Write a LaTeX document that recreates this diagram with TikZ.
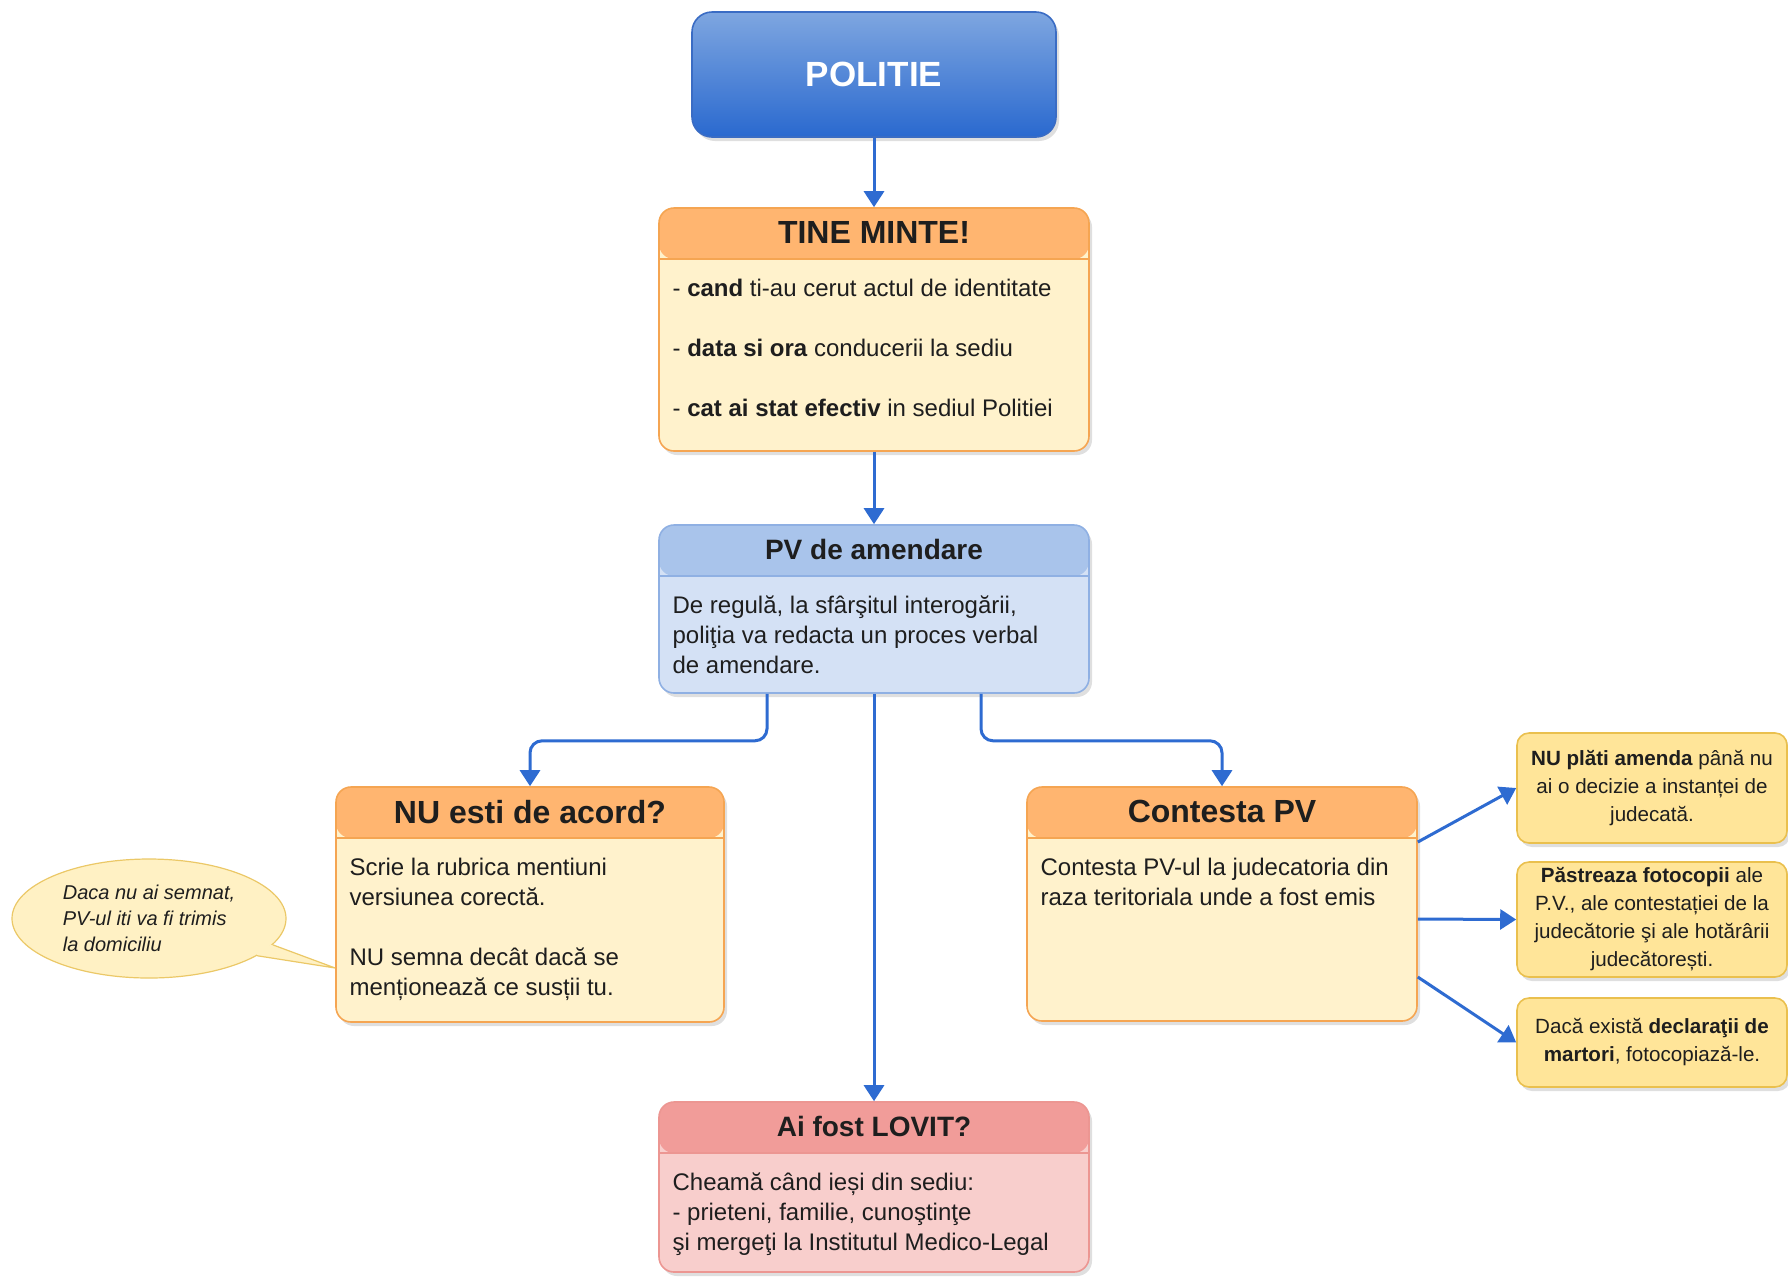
\documentclass[tikz,border=0pt]{standalone}
\usepackage{fontspec}
\setmainfont{Liberation Sans}
\usetikzlibrary{arrows.meta,shadows,shapes.geometric,calc}

\definecolor{linkblue}{HTML}{2E6BD1}
\definecolor{policetop}{HTML}{7EA6E0}
\definecolor{policebot}{HTML}{2A69CF}
\definecolor{policeline}{HTML}{3A6CC4}
\definecolor{orangehead}{HTML}{FFB570}
\definecolor{orangebody}{HTML}{FFF2CC}
\definecolor{orangeline}{HTML}{F5A552}
\definecolor{bluehead}{HTML}{A9C4EB}
\definecolor{bluebody}{HTML}{D4E1F5}
\definecolor{blueline}{HTML}{8FB0E3}
\definecolor{redhead}{HTML}{F19C99}
\definecolor{redbody}{HTML}{F8CECC}
\definecolor{redline}{HTML}{EC9692}
\definecolor{notefill}{HTML}{FFE599}
\definecolor{noteline}{HTML}{EAC04E}
\definecolor{bubblefill}{HTML}{FFF1C4}
\definecolor{bubbleline}{HTML}{EBC867}
\definecolor{inkgrey}{HTML}{1E1E1E}

\tikzset{
  link/.style={-{Triangle[length=8pt,width=10pt]}, draw=linkblue, line width=1.5pt},
  boxshadow/.style={drop shadow={opacity=0.25, shadow xshift=1.5pt, shadow yshift=-2pt}},
  lane/.style n args={3}{rectangle, rounded corners=7.5pt, draw=#1, line width=0.8pt, fill=#3, boxshadow,
    path picture={
      \fill[#2] (path picture bounding box.north west) rectangle ([yshift=-25.5pt]path picture bounding box.north east);
      \draw[#1, line width=0.8pt] ([yshift=-25.5pt]path picture bounding box.north west) -- ([yshift=-25.5pt]path picture bounding box.north east);
    }},
  policebox/.style={rectangle, rounded corners=10pt, draw=policeline, line width=0.8pt,
    top color=policetop, bottom color=policebot, boxshadow, text=white,
    font=\fontsize{17.5}{20}\selectfont\bfseries},
  titlebig/.style={inner sep=0pt, text=inkgrey, font=\fontsize{16}{19}\selectfont\bfseries},
  titlesmall/.style={inner sep=0pt, text=inkgrey, font=\fontsize{14}{17}\selectfont\bfseries},
  bodytext/.style={anchor=north west, inner sep=0pt, align=left, text=inkgrey, font=\fontsize{12}{15}\selectfont},
  notebox/.style={rectangle, rounded corners=6pt, draw=noteline, line width=0.8pt, fill=notefill, boxshadow,
    minimum width=135pt, inner sep=2pt, align=center, text=inkgrey, font=\fontsize{10.3}{14}\selectfont},
  bubble/.style={ellipse, draw=bubbleline, line width=0.6pt, fill=bubblefill, inner sep=0pt,
    minimum width=137pt, minimum height=59.5pt, align=left, text=inkgrey, font=\fontsize{10}{13}\selectfont\itshape},
}

\begin{document}
\begin{tikzpicture}[x=0.5pt, y=-0.5pt]
\useasboundingbox (0,0) rectangle (1788,1276);

\node[policebox, minimum width=182pt, minimum height=62.5pt] (politie) at (874,74.5) {POLITIE};

% boxes with a coloured title band
\node[lane={orangeline}{orangehead}{orangebody}, minimum width=215pt, minimum height=121.5pt] (tine)     at (874,329.5) {};
\node[lane={blueline}{bluehead}{bluebody},       minimum width=215pt, minimum height=84pt]    (pv)       at (874,609)   {};
\node[lane={orangeline}{orangehead}{orangebody}, minimum width=194pt, minimum height=117.5pt] (nuacord)  at (530,904.5) {};
\node[lane={orangeline}{orangehead}{orangebody}, minimum width=195pt, minimum height=117pt]   (contesta) at (1222,904)  {};
\node[lane={redline}{redhead}{redbody},          minimum width=215pt, minimum height=85pt]    (lovit)    at (874,1187)  {};

\node[titlebig]   (tinetitle)     at ([yshift=-12.75pt]tine.north)     {TINE MINTE!};
\node[titlesmall] (pvtitle)       at ([yshift=-12.75pt]pv.north)       {PV de amendare};
\node[titlebig]   (nuacordtitle)  at ([yshift=-12.75pt]nuacord.north)  {NU esti de acord?};
\node[titlebig]   (contestatitle) at ([yshift=-12.75pt]contesta.north) {Contesta PV};
\node[titlesmall] (lovittitle)    at ([yshift=-12.75pt]lovit.north)    {Ai fost LOVIT?};

\node[bodytext] (tinebody) at ([xshift=7pt,yshift=-35.5pt]tine.north west)
  {- \textbf{cand} ti-au cerut actul de identitate\\[15pt]
   - \textbf{data si ora} conducerii la sediu\\[15pt]
   - \textbf{cat ai stat efectiv} in sediul Politiei};
\node[bodytext] (pvbody) at ([xshift=7pt,yshift=-35.5pt]pv.north west)
  {De regulă, la sfârşitul interogării,\\ poliţia va redacta un proces verbal\\ de amendare.};
\node[bodytext] (nuacordbody) at ([xshift=7pt,yshift=-35.5pt]nuacord.north west)
  {Scrie la rubrica mentiuni\\ versiunea corectă.\\[15pt] NU semna decât dacă se\\ menționează ce susții tu.};
\node[bodytext] (contestabody) at ([xshift=7pt,yshift=-35.5pt]contesta.north west)
  {Contesta PV-ul la judecatoria din\\ raza teritoriala unde a fost emis};
\node[bodytext] (lovitbody) at ([xshift=7pt,yshift=-35.5pt]lovit.north west)
  {Cheamă când ieși din sediu:\\ - prieteni, familie, cunoştinţe\\ şi mergeţi la Institutul Medico-Legal};

% notes on the right
\node[notebox, minimum height=55pt]   (nota1) at (1652,788)   {\textbf{NU plăti amenda} până nu\\ ai o decizie a instanței de\\ judecată.};
\node[notebox, minimum height=57.5pt] (nota2) at (1652,919.5) {\textbf{Păstreaza fotocopii} ale\\ P.V., ale contestației de la\\ judecătorie şi ale hotărârii\\ judecătorești.};
\node[notebox, minimum height=44.5pt] (nota3) at (1652,1042.5) {Dacă există \textbf{declaraţii de}\\ \textbf{martori}, fotocopiază-le.};

% speech bubble
\node[bubble] (bula) at (149,918.5) {Daca nu ai semnat,\\ PV-ul iti va fi trimis\\ la domiciliu};
\coordinate (bulatip) at ([yshift=-31.75pt]nuacord.west);
\fill[bubblefill] (bula.-19) -- (bulatip) -- (bula.-12) -- ($(bula.-15.5)!5pt!(bula.center)$) -- cycle;
\draw[bubbleline, line width=0.6pt] (bula.-19) -- (bulatip) -- (bula.-12);

\def\straight{politie/tine, tine/pv, pv/lovit}
\foreach \u/\v in \straight
{	\draw[link] (\u.south) -- (\v.north);
}
\draw[link, rounded corners=6pt] ([xshift=-53.5pt]pv.south) -- ++(0,47) -| (nuacord.north);
\draw[link, rounded corners=6pt] ([xshift=53.5pt]pv.south) -- ++(0,47) -| (contesta.north);
\def\fan{31/nota1, -7.5/nota2, -36.5/nota3}
\foreach \dy/\v in \fan
{	\draw[link] ([yshift=\dy pt]contesta.east) -- (\v.west);
}
\end{tikzpicture}
\end{document}
